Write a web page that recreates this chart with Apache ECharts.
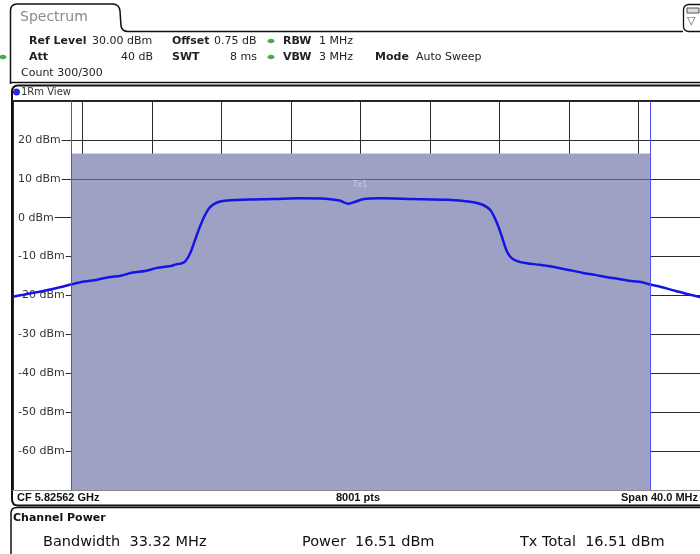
<!DOCTYPE html>
<html>
<head>
<meta charset="utf-8">
<script src="https://cdn.jsdelivr.net/npm/echarts@6/dist/echarts.min.js"></script>
<style>html,body{margin:0;padding:0;background:#fff;}#c{width:700px;height:554px;}</style>
</head>
<body>
<div id="c"></div>
<script>
// ---- data ----
const freqOffsetMHz = [-20.00,-19.40,-18.70,-18.00,-17.30,-16.60,-15.90,-15.20,-14.50,-13.80,-13.10,-12.40,-11.70,-11.00,-10.60,-10.35,-10.10,-9.81,-9.52,-9.24,-8.95,-8.66,-8.26,-7.68,-6.36,-5.00,-3.50,-2.00,-1.20,-0.70,-0.30,0.20,1.10,3.00,5.00,6.30,6.99,7.47,7.86,8.14,8.43,8.70,9.10,9.58,10.30,10.91,11.60,12.20,12.81,13.50,14.20,14.94,15.60,16.20,16.60,17.30,18.10,18.80,19.54,20.00];
const traceDbm = [-20.3,-19.8,-19.2,-18.6,-17.9,-17.1,-16.4,-16.0,-15.3,-14.9,-14.1,-13.7,-12.9,-12.5,-12.0,-11.8,-11.3,-9.2,-5.7,-2.3,0.7,2.7,3.9,4.4,4.7,4.8,5.0,4.9,4.4,3.6,4.1,4.8,5.0,4.8,4.6,4.1,3.4,2.0,-1.4,-4.9,-8.7,-10.4,-11.3,-11.7,-12.1,-12.5,-13.1,-13.6,-14.2,-14.7,-15.3,-15.8,-16.3,-16.6,-17.1,-17.8,-18.8,-19.6,-20.4,-20.9];
const yTicks = [-70,-60,-50,-40,-30,-20,-10,0,10,20,30];
const spanMHz = 40;
const visibleMaxMHz = 19.54;   // screenshot is cut at the right edge
const channelBwMHz = 33.32;
const channelPowerDbm = 16.51;
const limitLineDbm = 10;
const headerRow1 = ['Ref Level','30.00 dBm','Offset','0.75 dB','RBW','1 MHz'];
const headerRow2 = ['Att','40 dB','SWT','8 ms','VBW','3 MHz','Mode','Auto Sweep'];
const footerTexts = ['CF 5.82562 GHz','8001 pts','Span 40.0 MHz'];
const resultTexts = ['Bandwidth  33.32 MHz','Power  16.51 dBm','Tx Total  16.51 dBm'];

const half = channelBwMHz / 2;
const trace = freqOffsetMHz.map((f,i)=>[f, traceDbm[i]]);

echarts.graphic.registerShape('frame', echarts.graphic.extendShape({
  shape:{cmds:[]},
  buildPath:function(ctx, shape){
    shape.cmds.forEach(function(c){
      if(c[0]==='M') ctx.moveTo(c[1],c[2]);
      else if(c[0]==='L') ctx.lineTo(c[1],c[2]);
      else if(c[0]==='Q') ctx.quadraticCurveTo(c[1],c[2],c[3],c[4]);
    });
  }
}));

const F = 'DejaVu Sans';
function txt(x,y,t,o){ return {type:'text', x:x, y:y, z:100, style:Object.assign({text:t, font:'11px "DejaVu Sans"', fill:'#222', verticalAlign:'middle'}, o||{})}; }
const B = 'bold 11px "DejaVu Sans"';
const R = '14.5px "DejaVu Sans"';

const chart = echarts.init(document.getElementById('c'), null, {renderer:'canvas', width:700, height:554});
chart.setOption({
  animation:false,
  backgroundColor:'#ffffff',
  grid:{left:13, top:101, width:687, height:389, containLabel:false},
  xAxis:{type:'value', min:-spanMHz/2, max:visibleMaxMHz, interval:4,
    axisLine:{show:false}, axisTick:{show:false}, axisLabel:{show:false},
    splitLine:{show:true, lineStyle:{color:'#2b2b2b', width:1}}},
  yAxis:{type:'value', min:yTicks[0], max:yTicks[yTicks.length-1], interval:10,
    axisLine:{show:false}, axisTick:{show:false},
    axisLabel:{inside:true, margin:1, formatter:'{value} dBm', showMinLabel:false, showMaxLabel:false,
      color:'#333', fontFamily:F, fontSize:11, backgroundColor:'#fff', padding:[1,1,1,4]},
    splitLine:{show:true, lineStyle:{color:'#2b2b2b', width:1}}},
  series:[
    {type:'line', data:[], z:1, silent:true,
      markArea:{silent:true, itemStyle:{color:'#9fa1c4', opacity:1},
        data:[[{xAxis:-half, yAxis:yTicks[0]},{xAxis:half, yAxis:channelPowerDbm}]]},
      markLine:{silent:true, symbol:'none', label:{show:false},
        lineStyle:{color:'#4d4ff2', width:1, type:'solid'},
        data:[{xAxis:-half},{xAxis:half},
          [{coord:[-half,limitLineDbm]},{coord:[half,limitLineDbm]}]]}
    },
    {type:'line', data:trace, z:3, symbol:'none', smooth:0.3, silent:true, clip:true,
      lineStyle:{color:'#1414e6', width:2.5}}
  ],
  graphic:[
    // tab
    {type:'frame', z:100, shape:{cmds:[['M',10.5,84],['L',10.5,11],['Q',10.5,4,17,4],['L',113,4],['Q',119,4,120,11],['L',121,26],['Q',122,31.5,128,31.5],['L',683,31.5]]}, style:{stroke:'#111', lineWidth:1.5, fill:null}},
    txt(20,17,'Spectrum',{font:'14px "DejaVu Sans"', fill:'#8a8a8a'}),
    // icon top right
    {type:'rect', z:100, shape:{x:683.5, y:4.5, width:24, height:27, r:5}, style:{stroke:'#111', lineWidth:1.3, fill:'#fff'}},
    {type:'rect', z:101, shape:{x:687, y:8, width:12, height:5}, style:{stroke:'#555', lineWidth:1, fill:'#ddd'}},
    txt(687,21,'▽',{font:'11px "DejaVu Sans"', fill:'#555'}),
    // info box bottom line
    {type:'line', z:100, shape:{x1:10, y1:82.5, x2:700, y2:82.5}, style:{stroke:'#111', lineWidth:1.3}},
    // header row 1
    txt(29,41,headerRow1[0],{font:B}),
    txt(92,41,headerRow1[1]),
    txt(172,41,headerRow1[2],{font:B}),
    txt(214,41,headerRow1[3]),
    {type:'ellipse', z:100, shape:{cx:271, cy:41, rx:3.5, ry:2.3}, style:{fill:'#4caa4c'}},
    txt(283,41,headerRow1[4],{font:B}),
    txt(319,41,headerRow1[5]),
    // header row 2
    {type:'ellipse', z:100, shape:{cx:3, cy:57, rx:3.5, ry:2.3}, style:{fill:'#4caa4c'}},
    txt(29,57,headerRow2[0],{font:B}),
    txt(153,57,headerRow2[1],{align:'right'}),
    txt(172,57,headerRow2[2],{font:B}),
    txt(257,57,headerRow2[3],{align:'right'}),
    {type:'ellipse', z:100, shape:{cx:271, cy:57, rx:3.5, ry:2.3}, style:{fill:'#4caa4c'}},
    txt(283,57,headerRow2[4],{font:B}),
    txt(319,57,headerRow2[5]),
    txt(375,57,headerRow2[6],{font:B}),
    txt(416,57,headerRow2[7]),
    // row 3
    txt(21,73,'Count 300/300'),
    // view box frame
    {type:'frame', z:100, shape:{cmds:[['M',700,85.5],['L',18,85.5],['Q',12,85.5,12,92],['L',12,499],['Q',12,505.5,18,505.5],['L',700,505.5]]}, style:{stroke:'#111', lineWidth:2, fill:null}},
    {type:'circle', z:100, shape:{cx:16.5, cy:92, r:3.5}, style:{fill:'#2a2ae0'}},
    txt(21,92,'1Rm View',{font:'10px "DejaVu Sans"', fill:'#333'}),
    {type:'line', z:100, shape:{x1:12, y1:100.5, x2:700, y2:100.5}, style:{stroke:'#222', lineWidth:1}},
    {type:'line', z:100, shape:{x1:12, y1:490.5, x2:700, y2:490.5}, style:{stroke:'#888', lineWidth:1}},
    // faint channel label
    txt(360,185,'Tx1',{font:'8px "DejaVu Sans"', fill:'rgba(255,255,255,0.45)', align:'center'}),
    // footer bar
    txt(17,498,footerTexts[0],{font:'bold 11px "Liberation Sans"', fill:'#111'}),
    txt(358,498,footerTexts[1],{font:'bold 11px "Liberation Sans"', fill:'#111', align:'center'}),
    txt(698,498,footerTexts[2],{font:'bold 11px "Liberation Sans"', fill:'#111', align:'right'}),
    // channel power box
    {type:'frame', z:100, shape:{cmds:[['M',11,554],['L',11,513],['Q',11,507.5,17,507.5],['L',700,507.5]]}, style:{stroke:'#111', lineWidth:1.5, fill:null}},
    txt(13,518,'Channel Power',{font:'bold 11px "DejaVu Sans"', fill:'#111'}),
    txt(43,542,resultTexts[0],{font:R, fill:'#111'}),
    txt(302,542,resultTexts[1],{font:R, fill:'#111'}),
    txt(520,542,resultTexts[2],{font:R, fill:'#111'})
  ]
});
</script>
</body>
</html>
